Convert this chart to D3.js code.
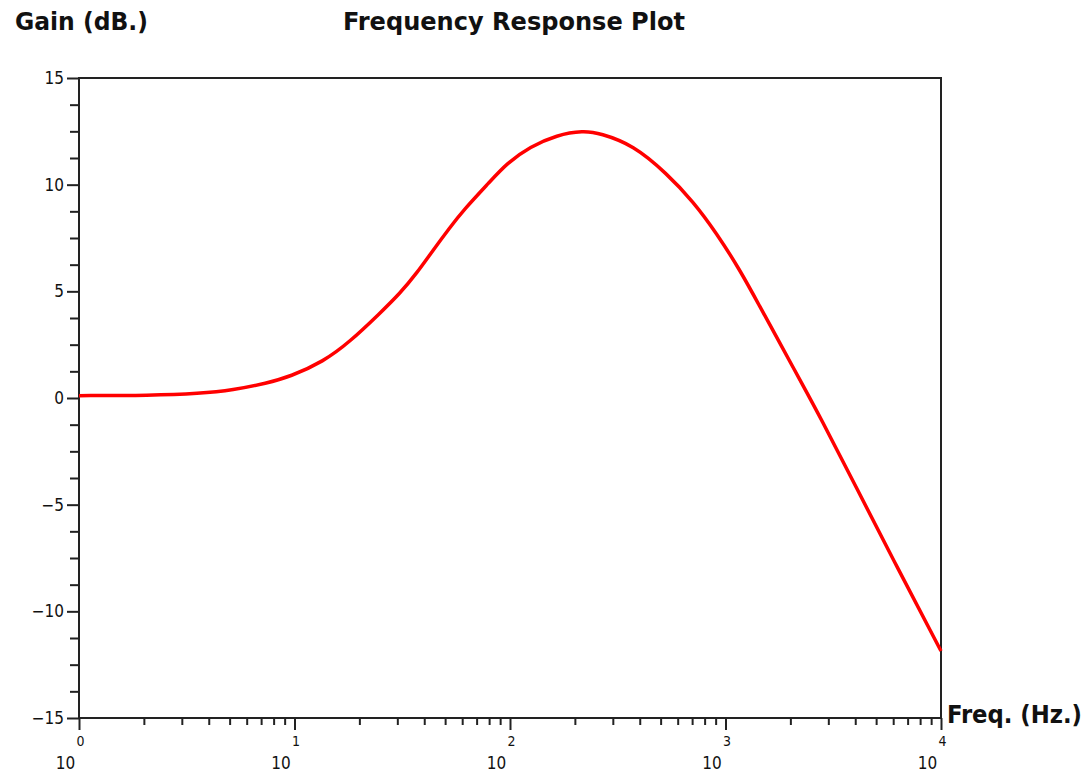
<!DOCTYPE html>
<html>
<head>
<meta charset="utf-8" />
<script src="https://d3js.org/d3.v7.min.js"></script>
<style>
  body { margin: 0; background: #fff; }
  svg { display: block; }
  .lbl { font-family: "DejaVu Sans Condensed", "DejaVu Sans", sans-serif; font-stretch: condensed; fill: #111; }
</style>
</head>
<body>
<div id="chart"></div>
<script>
// frequency (Hz) and gain (dB)
const freqs = [1, 2.14, 3.63, 5.19, 7.45, 9.53, 13.6, 18.1, 24.9, 30.9, 36.9, 44.1, 52.7, 60.7, 80.7, 96.6,
               124, 165, 219, 262, 373, 533, 710, 910, 1167, 1445, 1791, 2218, 2748, 3981, 6310, 10000];
const gains = [0.11, 0.12, 0.21, 0.37, 0.70, 1.00, 1.70, 2.64, 3.97, 4.91, 5.85, 6.95, 8.00, 8.80, 10.14, 11.00,
               11.78, 12.33, 12.53, 12.41, 11.86, 10.53, 9.20, 7.72, 6.00, 4.28, 2.56, 0.84, -0.88, -4.06, -8.00, -11.86];

const yMajor = [-15, -10, -5, 0, 5, 10, 15];
const xExponents = [0, 1, 2, 3, 4];

const titre = "Frequency Response Plot";
const titreY = "Gain (dB.)";
const titreX = "Freq. (Hz.)";

const largeur = 1085, hauteur = 772;
const marge = {haut: 78, droite: 144, bas: 54, gauche: 79};

const svg = d3.select('#chart').append('svg')
    .attr('width', largeur)
    .attr('height', hauteur);

const x = d3.scaleLog()
    .domain([1, 10000])
    .range([marge.gauche, largeur - marge.droite]);

const y = d3.scaleLinear()
    .domain([-15, 15])
    .range([hauteur - marge.bas, marge.haut]);

// ticks mineurs : 3 entre chaque graduation majeure en y, 2..9 en x
const yMinor = d3.range(-15, 15.001, 1.25).filter(v => !yMajor.includes(v));
const xMinor = [];
xExponents.slice(0, -1).forEach(e => {
    for (let k = 2; k <= 9; k++) xMinor.push(k * Math.pow(10, e));
});
const xMajor = xExponents.map(e => Math.pow(10, e));

function styleAxe(g) {
    g.select('.domain').remove();
    g.selectAll('line').attr('stroke', '#222').attr('stroke-width', 2);
}

// axe Y
svg.append('g')
    .attr('transform', `translate(${marge.gauche},0)`)
    .call(d3.axisLeft(y).tickValues(yMinor).tickSize(9).tickFormat(''))
    .call(styleAxe);

svg.append('g')
    .attr('transform', `translate(${marge.gauche},0)`)
    .call(d3.axisLeft(y).tickValues(yMajor).tickSize(12).tickPadding(3))
    .call(styleAxe)
    .call(g => g.selectAll('text')
        .attr('class', 'lbl')
        .attr('font-size', 17)
        .attr('fill', '#111'));

// axe X
svg.append('g')
    .attr('transform', `translate(0,${hauteur - marge.bas})`)
    .call(d3.axisBottom(x).tickValues(xMinor).tickSize(7).tickFormat(''))
    .call(styleAxe);

const axeX = svg.append('g')
    .attr('transform', `translate(0,${hauteur - marge.bas})`)
    .call(d3.axisBottom(x).tickValues(xMajor).tickSize(12).tickFormat(''))
    .call(styleAxe);

// libellés 10^n façon Scilab : exposant au-dessus, "10" décalé à gauche
axeX.selectAll('.tick').each(function(d, i) {
    const t = d3.select(this);
    t.append('text')
        .attr('class', 'lbl')
        .attr('text-anchor', 'middle')
        .attr('x', 1)
        .attr('y', 28)
        .attr('font-size', 14)
        .text(xExponents[i]);
    t.append('text')
        .attr('class', 'lbl')
        .attr('text-anchor', 'middle')
        .attr('x', -14)
        .attr('y', 51)
        .attr('font-size', 17)
        .text('10');
});

// cadre
svg.append('rect')
    .attr('x', marge.gauche)
    .attr('y', marge.haut)
    .attr('width', largeur - marge.droite - marge.gauche)
    .attr('height', hauteur - marge.bas - marge.haut)
    .attr('fill', 'none')
    .attr('stroke', '#222')
    .attr('stroke-width', 2);

// courbe (lissée)
const points = freqs.map((f, i) => ({f: f, g: gains[i]}));
const ligne = d3.line()
    .x(d => x(d.f))
    .y(d => y(d.g))
    .curve(d3.curveBasis);

svg.append('path')
    .datum(points)
    .attr('d', ligne)
    .attr('fill', 'none')
    .attr('stroke', '#ff0000')
    .attr('stroke-width', 3.5);

// titres
svg.append('text')
    .attr('class', 'lbl')
    .attr('x', 343).attr('y', 30)
    .attr('font-size', 24).attr('font-weight', 'bold')
    .attr('textLength', 342).attr('lengthAdjust', 'spacingAndGlyphs')
    .text(titre);

svg.append('text')
    .attr('class', 'lbl')
    .attr('x', 15).attr('y', 30)
    .attr('font-size', 24).attr('font-weight', 'bold')
    .attr('textLength', 133).attr('lengthAdjust', 'spacingAndGlyphs')
    .text(titreY);

svg.append('text')
    .attr('class', 'lbl')
    .attr('x', 947).attr('y', 723)
    .attr('font-size', 24).attr('font-weight', 'bold')
    .attr('textLength', 135).attr('lengthAdjust', 'spacingAndGlyphs')
    .text(titreX);
</script>
</body>
</html>
